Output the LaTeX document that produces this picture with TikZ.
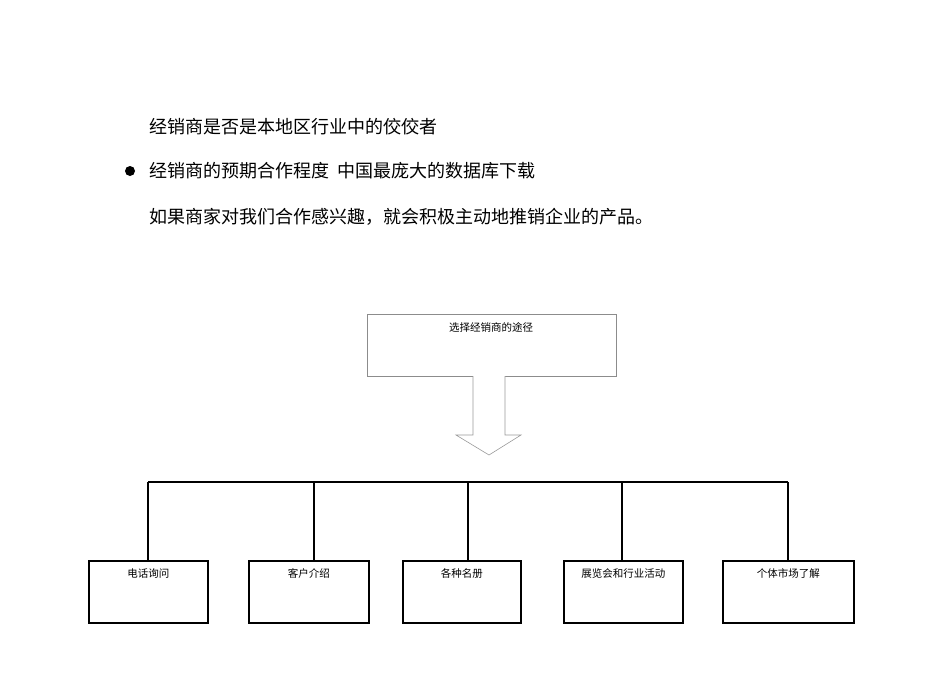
\documentclass[tikz,border=0pt]{standalone}
\usepackage{fontspec}
\usetikzlibrary{calc}
\newfontfamily\cjk{Noto Sans CJK SC}
\begin{document}
\begin{tikzpicture}[x=1pt,y=-1pt,
  para/.style={anchor=west,font=\cjk\fontsize{18}{20}\selectfont,inner sep=0},
  topbox/.style={draw=black!45,line width=0.6pt,minimum width=249pt,minimum height=62pt,anchor=north west,inner sep=0},
  leaf/.style={draw,line width=1.8pt,minimum height=62pt,anchor=north west,inner sep=0},
  lbl/.style={font=\cjk\fontsize{10.5}{12}\selectfont,anchor=north},
  bus/.style={line width=2pt}]
\useasboundingbox (0,0) rectangle (950,672);
\node[para] (l1) at (149,127) {经销商是否是本地区行业中的佼佼者};
\node[para] (l2) at (149,171) {经销商的预期合作程度\ \ 中国最庞大的数据库下载};
\node[para] (l3) at (149,217) {如果商家对我们合作感兴趣，就会积极主动地推销企业的产品。};
\fill (130,171) circle (5);
\node[topbox] (top) at (367,314) {};
\node[lbl] (tt) at (491,319) {选择经销商的途径};
\draw[draw=black!40,line width=0.6pt,fill=white] (473,376) -- (473,435) -- (456,435) -- (489,455) -- (521,435) -- (505,435) -- (505,376);
\foreach \n/\x/\w/\t in {a/88/119/电话询问, b/248/120/客户介绍, c/402/118/各种名册, d/563/119/展览会和行业活动, e/722/131/个体市场了解}{
  \node[leaf,minimum width=\w pt] (\n) at (\x,560) {};
  \node[lbl] at ($(\n.north)+(0,5)$) {\t};
}
\coordinate (bl) at (148,482);
\coordinate (br) at (788,482);
\draw[bus] (bl) -- (br);
\foreach \x in {148,314,468,622,788} \draw[bus] (\x,482) -- (\x,560);
\end{tikzpicture}
\end{document}
